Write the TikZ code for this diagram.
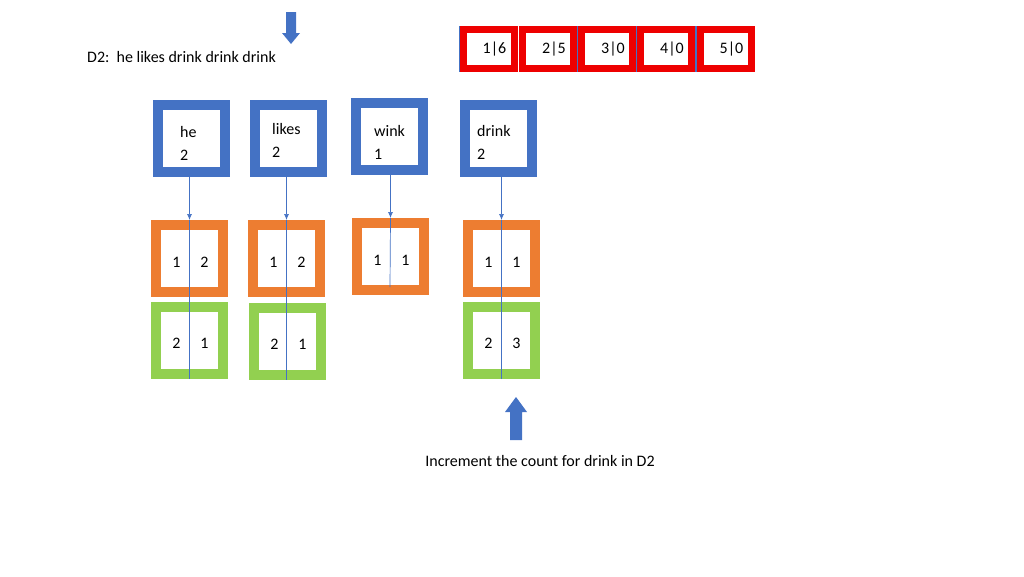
\documentclass[tikz,border=0pt]{standalone}
\usepackage{fontspec}
\setmainfont{Carlito}
\usetikzlibrary{arrows.meta}
\definecolor{bblue}{HTML}{4472C4}
\definecolor{borange}{HTML}{ED7D31}
\definecolor{bgreen}{HTML}{92D050}
\definecolor{bred}{HTML}{EE0000}
\begin{document}
\begin{tikzpicture}[x=1pt,y=-1pt,font=\fontsize{16}{19}\selectfont,
  box/.style={draw=#1,line width=10pt,minimum width=67pt,minimum height=67pt,inner sep=0pt,fill=white},
  rbox/.style={draw=bred,line width=7pt,minimum width=51pt,minimum height=39pt,inner sep=0pt,fill=white},
  conn/.style={draw=bblue,line width=0.7pt},
  txt/.style={inner sep=0pt,anchor=west}]
\useasboundingbox (0,0) rectangle (1024,576);
% red boxes
\foreach \n/\x/\t in {r1/488.5/1|6,r2/548/2|5,r3/607/3|0,r4/666/4|0,r5/725.5/5|0}{
  \draw[bblue,line width=0.6pt] (\x-29,26) rectangle (\x+29,71);
  \node[rbox] (\n) at (\x,48.5) {};
  \node[inner sep=0pt] at (\x+6,49) {\t};
}
% top arrow
\fill[bblue] (286,12) -- (296,12) -- (296,33) -- (300,33) -- (291,44) -- (282,33) -- (286,33) -- cycle;
\node[txt] (d2) at (87,57) {D2:\ \ he likes drink drink drink};
% blue boxes
\node[box=bblue] (he) at (191.5,138.5) {};
\node[box=bblue] (likes) at (288.5,138.5) {};
\node[box=bblue] (wink) at (389.5,136.5) {};
\node[box=bblue] (drink) at (498.5,138.5) {};
\node[txt] at (180,132) {he};   \node[txt] at (180,155) {2};
\node[txt] at (272,129) {likes};\node[txt] at (272,152) {2};
\node[txt] at (374,131) {wink}; \node[txt] at (374,154) {1};
\node[txt] at (477,131) {drink};\node[txt] at (477,154) {2};
% orange
\node[box=borange] (ohe) at (189.5,258.5) {};
\node[box=borange] (olikes) at (286.5,258.5) {};
\node[box=borange] (owink) at (390.5,256.5) {};
\node[box=borange] (odrink) at (501.5,258.5) {};
% green
\node[box=bgreen] (ghe) at (189.5,340.5) {};
\node[box=bgreen] (glikes) at (287.5,341.5) {};
\node[box=bgreen] (gdrink) at (501.5,340.5) {};
% connectors
\coordinate (wend) at (390,287);
\draw[conn,-{Latex[length=6pt,width=5pt]}] (he.south -| ohe.north) -- (ohe.north);
\draw[conn] (ohe.north) -- (ghe.south);
\draw[conn,-{Latex[length=6pt,width=5pt]}] (likes.south -| olikes.north) -- (olikes.north);
\draw[conn] (olikes.north) -- (olikes.north |- glikes.south);
\draw[conn,-{Latex[length=6pt,width=5pt]}] (wink.south -| owink.north) -- (owink.north);
\draw[conn] (owink.north) -- (wend);
\draw[conn,-{Latex[length=6pt,width=5pt]}] (drink.south -| odrink.north) -- (odrink.north);
\draw[conn] (odrink.north) -- (gdrink.south);
% numbers
\foreach \x/\y/\a/\b in {189.5/262/1/2,286.5/262/1/2,390.5/260/1/1,501.5/262/1/1,189.5/343/2/1,287.5/344/2/1,501.5/343/2/3}{
  \node[inner sep=0pt] at (\x-13,\y) {\a};
  \node[inner sep=0pt] at (\x+15,\y) {\b};
}
% bottom arrow
\fill[bblue] (510,440) -- (522,440) -- (522,412) -- (527,412) -- (516,397) -- (505,412) -- (510,412) -- cycle;
\node[inner sep=0pt] (inc) at (540,461) {Increment the count for drink in D2};
\end{tikzpicture}
\end{document}
